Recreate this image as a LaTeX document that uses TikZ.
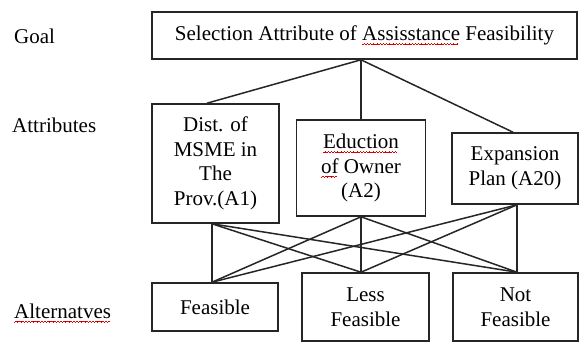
\documentclass[tikz,border=0pt]{standalone}
\usepackage{fontspec}
\setmainfont{Liberation Serif}
\usetikzlibrary{calc}
\newcommand\wavecell{\rule[0pt]{0.8pt}{0.7pt}\rule[0.5pt]{0.8pt}{0.7pt}\rule[1pt]{0.8pt}{0.7pt}\rule[0.5pt]{0.8pt}{0.7pt}}
\newcommand\spellerr[1]{\setbox0\hbox{#1}\rlap{\copy0}\raisebox{-4.5pt}{\color{red!85!black}\leaders\hbox{\wavecell}\hskip\wd0}}
\tikzset{
  box/.style={draw=black!85, line width=1.6pt, inner sep=0pt, align=center,
    font=\fontsize{21}{24.5}\selectfont},
  lbl/.style={anchor=west, inner sep=0pt, font=\fontsize{21}{24.5}\selectfont},
  conn/.style={draw=black!85, line width=1.5pt}
}
\begin{document}
\begin{tikzpicture}[x=1pt,y=-1pt]
\useasboundingbox (0,0) rectangle (580,342);
% level labels
\node[lbl] (lgoal) at (14,36) {Goal};
\node[lbl] (lattr) at (12,125) {Attributes};
\node[lbl] (lalt) at (14,313) {\spellerr{Alternatves}};
% goal
\node[box, minimum width=425pt, minimum height=47pt] (g) at (364.5,35.5)
  {Selection Attribute of \spellerr{Assisstance} Feasibility};
% attributes
\node[box, minimum width=127pt, minimum height=119pt] (a1) at (215.5,163.5)
  {Dist. of\\MSME in\\The\\Prov.(A1)};
\node[box, minimum width=129pt, minimum height=96pt] (a2) at (361,168)
  {\spellerr{Eduction}\\\spellerr{of} Owner\\(A2)};
\node[box, minimum width=126pt, minimum height=71pt] (a3) at (515,168.5)
  {Expansion\\Plan (A20)};
% alternatives
\node[box, minimum width=126pt, minimum height=48pt] (f1) at (215,307) {Feasible};
\node[box, minimum width=127pt, minimum height=68pt] (f2) at (365.5,307) {Less\\Feasible};
\node[box, minimum width=125pt, minimum height=68pt] (f3) at (515.5,307) {Not\\Feasible};
% attachment points
\coordinate (gb) at ([xshift=-3.5pt]g.south);
\coordinate (a1t) at ([xshift=-8.5pt]a1.north);
\coordinate (a2t) at (a2.north);
\coordinate (a3t) at ([xshift=-2pt]a3.north);
\coordinate (a1b) at ([xshift=-3.5pt]a1.south);
\coordinate (a2b) at (a2.south);
\coordinate (a3b) at ([xshift=2pt]a3.south);
\coordinate (f1t) at ([xshift=-3pt]f1.north);
\coordinate (f2t) at ([xshift=-4.5pt]f2.north);
\coordinate (f3t) at ([xshift=1.5pt]f3.north);
% connectors
\foreach \t in {a1t,a2t,a3t} \draw[conn] (gb) -- (\t);
\foreach \a in {a1b,a2b,a3b}
  \foreach \f in {f1t,f2t,f3t}
    \draw[conn] (\a) -- (\f);
\end{tikzpicture}
\end{document}
